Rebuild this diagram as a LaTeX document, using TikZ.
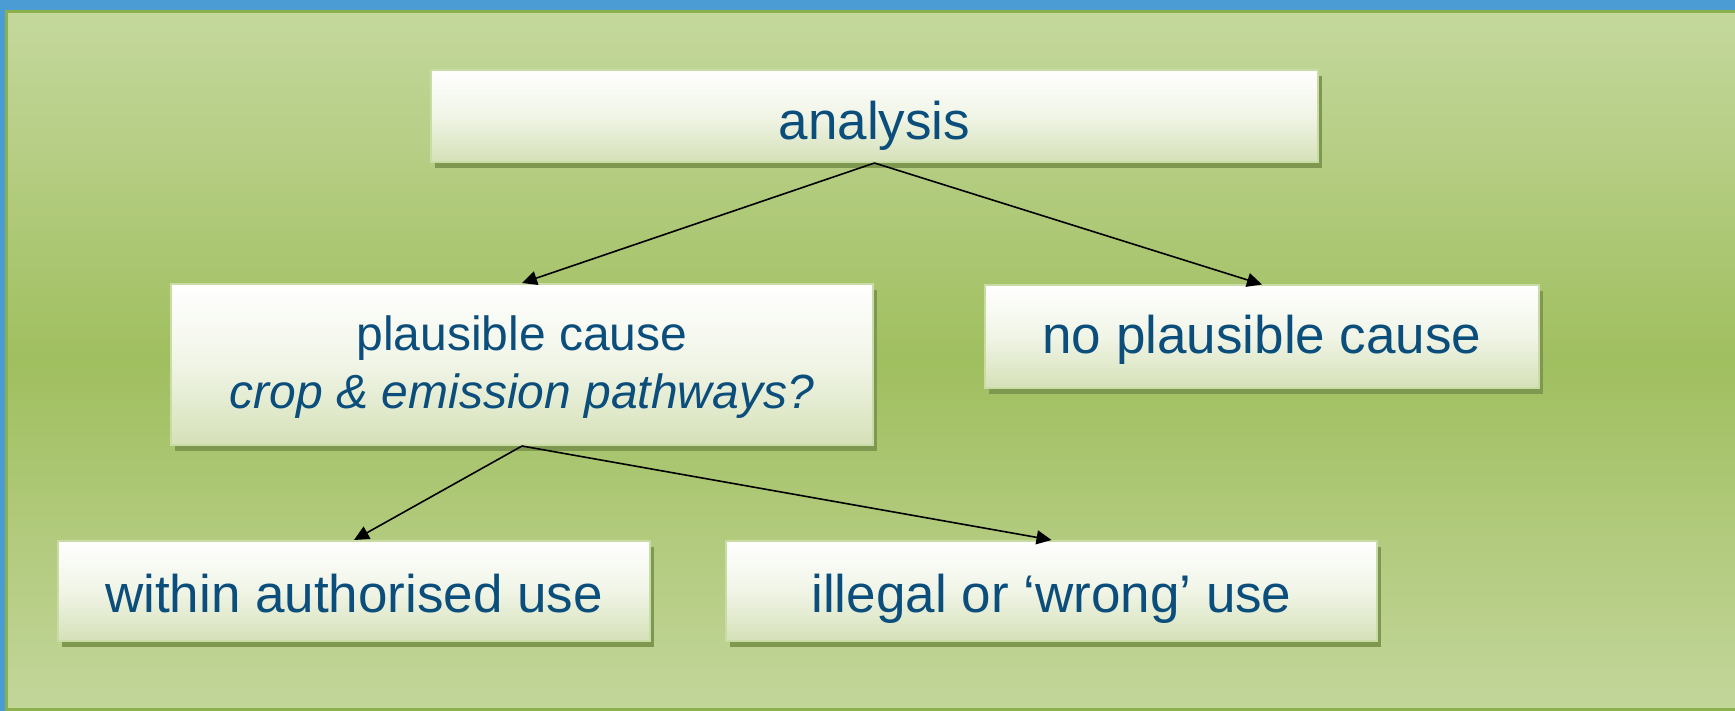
\documentclass[tikz,border=0pt]{standalone}
\usepackage{fontspec}
\setmainfont{Liberation Sans}
\usetikzlibrary{shadows,arrows.meta}
\definecolor{txt}{HTML}{0B4E7B}
\definecolor{blueb}{HTML}{4B9BD5}
\definecolor{bgtop}{HTML}{C4D89D}
\definecolor{bgmid}{HTML}{A0BF5F}
\definecolor{bgbot}{HTML}{C3D69B}
\definecolor{framec}{HTML}{8CB04E}
\definecolor{boxline}{HTML}{C9DCA6}
\definecolor{boxbot}{HTML}{D5E1B8}
\definecolor{shadowc}{HTML}{7E9850}
\tikzset{
  box/.style={draw=boxline, line width=2pt, inner sep=0pt,
    top color=white, bottom color=boxbot, middle color=white!65!boxbot,
    drop shadow={shadow xshift=4pt, shadow yshift=-6pt, fill=shadowc, opacity=1},
    text=txt, align=center, font=\fontsize{53}{60}\selectfont, text depth=0pt},
  conn/.style={black, line width=1.6pt, -{Triangle[length=15pt,width=14pt]}}
}
\begin{document}
\begin{tikzpicture}[x=1pt,y=-1pt]
\useasboundingbox (0,0) rectangle (1735,711);
\fill[blueb] (0,0) rectangle (1735,711);
\shade[top color=bgtop, bottom color=bgbot, middle color=bgmid] (6,11) rectangle (1740,711);
\draw[framec, line width=2.5pt] (6.5,11.5) rectangle (1745,709.5);

\node[box, minimum width=887pt, minimum height=92pt, text height=48pt] (an) at (874.5,116) {analysis};
\node[box, minimum width=702pt, minimum height=161pt, font=\fontsize{48}{58}\selectfont, text depth=] (pc) at (522,364.5) {\rule{0pt}{40pt}plausible cause\\\itshape crop \& emission pathways?\rule[-11pt]{0pt}{11pt}};
\node[box, minimum width=554pt, minimum height=102pt, text height=33pt] (np) at (1262,336.5) {no plausible cause};
\node[box, minimum width=592pt, minimum height=100pt, text height=42pt] (wa) at (354,591) {within authorised use};
\node[box, minimum width=651pt, minimum height=100pt, text height=42pt] (il) at (1051.5,591) {illegal or ‘wrong’ use};

\draw[conn] (an.south) -- (pc.north);
\draw[conn] (an.south) -- (np.north);
\draw[conn] (pc.south) -- (wa.north);
\draw[conn] (pc.south) -- (il.north);
\end{tikzpicture}
\end{document}
